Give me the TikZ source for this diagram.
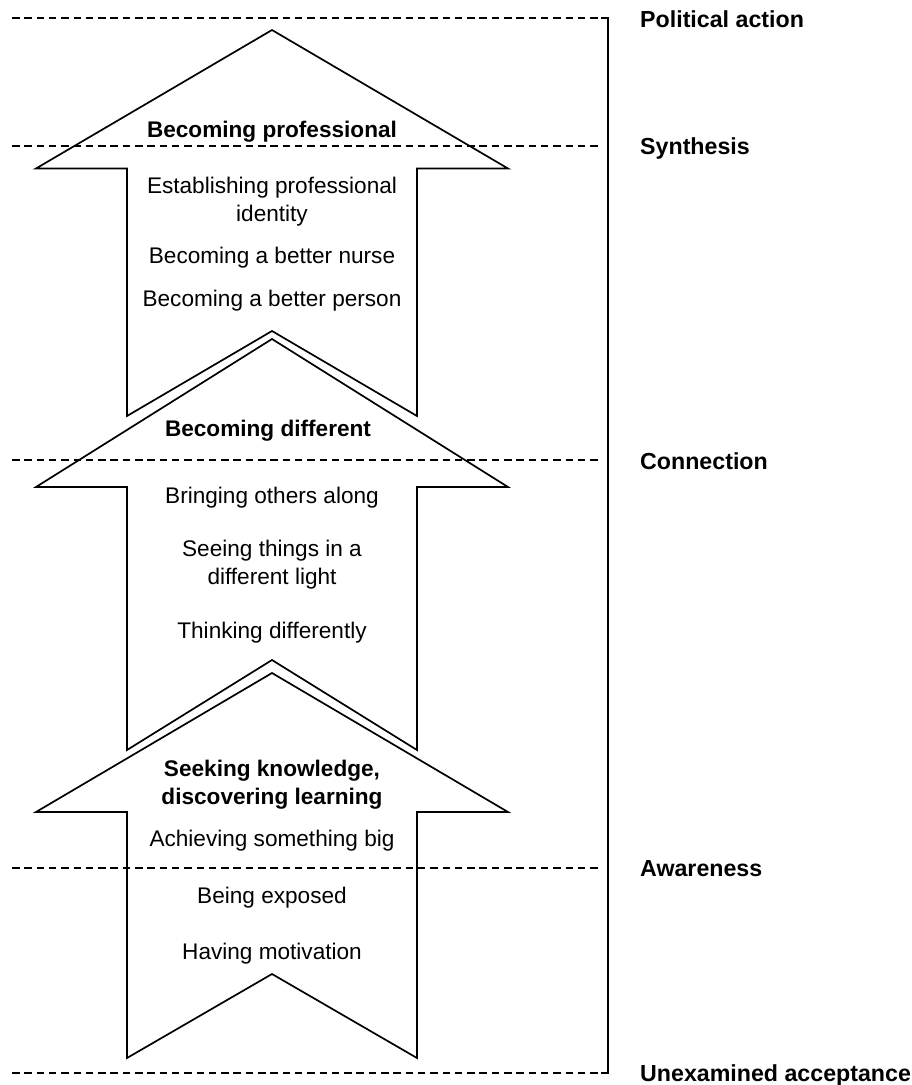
\documentclass[tikz,border=0pt]{standalone}
\usepackage{fontspec}
\setmainfont{Liberation Sans}
\begin{document}
\begin{tikzpicture}[x=1pt,y=-1pt,
  arrowshape/.style={draw=black,line width=1.7pt,line join=miter},
  level/.style={dash pattern=on 7.5pt off 4.8pt,line width=1.5pt},
  bracket/.style={line width=1.5pt},
  txt/.style={inner sep=0pt,align=center,font=\fontsize{22.6}{28}\selectfont},
  head/.style={txt,font=\fontsize{22.6}{28}\selectfont\bfseries},
  lbl/.style={inner sep=0pt,anchor=west,font=\fontsize{23.2}{27}\selectfont\bfseries}]
\useasboundingbox (0,0) rectangle (912,1085);
% levels
\foreach \yy in {18,146,460,868,1073}{
  \draw[level] (12,\yy) -- (602,\yy);
}
\coordinate (btop) at (608,18);
\coordinate (bbot) at (608,1073);
\draw[bracket] (601,18) -- (btop) -- (bbot) -- (601,1073);
% arrows
\draw[arrowshape] (272,30) -- (508,168.5) -- (417,168.5) -- (417,416) -- (272,331) -- (127,416) -- (127,168.5) -- (36,168.5) -- cycle;
\draw[arrowshape] (272,339) -- (508,487) -- (417,487) -- (417,750) -- (272,660) -- (127,750) -- (127,487) -- (36,487) -- cycle;
\draw[arrowshape] (272,673) -- (508,812) -- (417,812) -- (417,1058) -- (272,974) -- (127,1058) -- (127,812) -- (36,812) -- cycle;
% arrow texts
\node[head] (h1) at (272,132) {Becoming professional};
\node[txt] (a1) at (272,202) {Establishing professional\\identity};
\node[txt] (a2) at (272,258) {Becoming a better nurse};
\node[txt] (a3) at (272,301) {Becoming a better person};
\node[head] (h2) at (268,431) {Becoming different};
\node[txt] (b1) at (272,498) {Bringing others along};
\node[txt] (b2) at (272,565) {Seeing things in a\\different light};
\node[txt] (b3) at (272,633) {Thinking differently};
\node[head] (h3) at (272,784.5) {Seeking knowledge,\\discovering learning};
\node[txt] (c1) at (272,841) {Achieving something big};
\node[txt] (c2) at (272,898) {Being exposed};
\node[txt] (c3) at (272,954) {Having motivation};
% level labels
\node[lbl] (l1) at (640,19) {Political action};
\node[lbl] (l2) at (640,148) {Synthesis};
\node[lbl] (l3) at (640,461) {Connection};
\node[lbl] (l4) at (640,869) {Awareness};
\node[lbl] (l5) at (640,1075) {Unexamined acceptance};
\end{tikzpicture}
\end{document}
